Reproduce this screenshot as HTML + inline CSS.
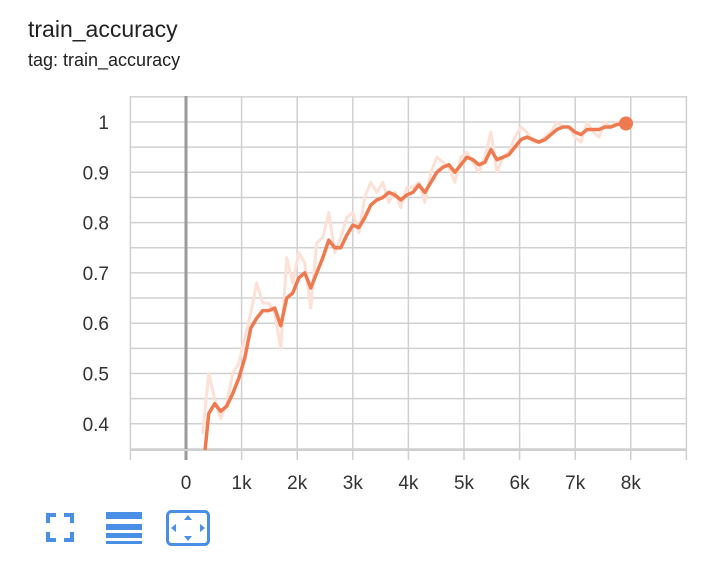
<!DOCTYPE html>
<html><head><meta charset="utf-8">
<style>
body{margin:0;width:712px;height:568px;background:#fff;overflow:hidden;font-family:"Liberation Sans",sans-serif;}
.t1{position:absolute;left:28px;top:16px;font-size:23px;color:#212121;}
.t2{position:absolute;left:28px;top:50px;font-size:18px;color:#212121;}
svg{position:absolute;left:0;top:0;}
</style></head>
<body>
<div class="t1">train_accuracy</div>
<div class="t2">tag: train_accuracy</div>
<svg id="chart" width="712" height="568"></svg>
<script>
const steps=[300,408,516,624,732,840,948,1056,1164,1272,1380,1488,1596,1704,1812,1920,2028,2136,2244,2352,2460,2568,2676,2784,2892,3000,3108,3216,3324,3432,3540,3648,3756,3864,3972,4080,4188,4296,4404,4512,4620,4728,4836,4944,5052,5160,5268,5376,5484,5592,5700,5808,5916,6024,6132,6240,6348,6456,6564,6672,6780,6888,6996,7104,7212,7320,7428,7536,7644,7752,7860];
const smoothed=[0.30,0.42,0.44,0.425,0.435,0.46,0.49,0.53,0.59,0.61,0.625,0.625,0.63,0.595,0.65,0.66,0.69,0.70,0.67,0.70,0.73,0.765,0.75,0.75,0.775,0.795,0.79,0.81,0.835,0.845,0.85,0.86,0.855,0.845,0.855,0.86,0.875,0.86,0.88,0.90,0.91,0.915,0.90,0.915,0.93,0.925,0.915,0.92,0.945,0.925,0.93,0.935,0.95,0.965,0.97,0.965,0.96,0.965,0.975,0.985,0.99,0.99,0.98,0.975,0.985,0.985,0.985,0.99,0.99,0.995,0.997];
const raw=[0.38,0.50,0.45,0.41,0.44,0.50,0.52,0.57,0.62,0.68,0.64,0.64,0.62,0.55,0.73,0.68,0.74,0.72,0.63,0.76,0.77,0.82,0.74,0.77,0.81,0.82,0.78,0.85,0.88,0.86,0.88,0.84,0.86,0.83,0.87,0.87,0.88,0.84,0.90,0.93,0.92,0.91,0.88,0.93,0.94,0.92,0.90,0.93,0.98,0.90,0.93,0.94,0.97,0.99,0.98,0.96,0.96,0.97,0.98,1.0,0.99,0.99,0.97,0.96,1.0,0.98,0.97,1.0,0.99,1.0,0.997];
const xTicks=[0,1000,2000,3000,4000,5000,6000,7000,8000];
const xTickLabels=["0","1k","2k","3k","4k","5k","6k","7k","8k"];
const yTicks=[0.4,0.5,0.6,0.7,0.8,0.9,1];
const yTickLabels=["0.4","0.5","0.6","0.7","0.8","0.9","1"];

const L=131,R=687,T=96,B=450;
const xS=v=>186+v*(55.6/1000);
const yS=v=>122+(1-v)*503;
const svg=document.getElementById('chart');
const NS='http://www.w3.org/2000/svg';
function mk(tag,attrs,parent){const e=document.createElementNS(NS,tag);for(const k in attrs)e.setAttribute(k,attrs[k]);(parent||svg).appendChild(e);return e;}

const defs=mk('defs',{});
const cp=mk('clipPath',{id:'clip'},defs);
mk('rect',{x:L,y:T,width:R-L,height:B-T},cp);

const grid=mk('g',{});


for(let v=0.35;v<=1.0501;v+=0.05){const y=yS(v);mk('line',{x1:L,x2:R,y1:y,y2:y,stroke:'#d0d0d0','stroke-width':1.5},grid);}
for(let s=-1000;s<=9000;s+=1000){const x=xS(s);mk('line',{x1:x,x2:x,y1:T,y2:B+10,stroke:s===0?'#9a9a9a':'#d0d0d0','stroke-width':s===0?3:1.5},grid);}
mk('line',{x1:L,x2:R,y1:B,y2:B,stroke:'#cfcfcf','stroke-width':2},grid);

xTicks.forEach((s,i)=>{const t=mk('text',{x:xS(s),y:489,'text-anchor':'middle','font-size':19,fill:'#333','font-family':'Liberation Sans, sans-serif'});t.textContent=xTickLabels[i];

});
yTicks.forEach((v,i)=>{const t=mk('text',{x:109,y:yS(v)+7,'text-anchor':'end','font-size':19,fill:'#333','font-family':'Liberation Sans, sans-serif'});t.textContent=yTickLabels[i];

});

const g=mk('g',{'clip-path':'url(#clip)'});
const rp=mk('polyline',{points:steps.map((s,i)=>xS(s)+','+yS(raw[i])).join(' '),fill:'none',stroke:'#fde0d6','stroke-width':3,'stroke-linejoin':'round'},g);


const sp=mk('polyline',{points:steps.map((s,i)=>xS(s)+','+yS(smoothed[i])).join(' '),fill:'none',stroke:'#ef7a4f','stroke-width':3.5,'stroke-linejoin':'round'},g);


const n=steps.length-1;
const dot=mk('circle',{cx:xS(steps[n])+3,cy:yS(smoothed[n]),r:7,fill:'#ef7a4f'});



const c='#4a8fe6';
const fs=mk('g',{fill:'none',stroke:c,'stroke-width':4});


mk('path',{d:'M48 523 V515 H56 M64 515 H72 V523 M72 532 V540 H64 M56 540 H48 V532'},fs);
const ls=mk('g',{fill:c});


mk('rect',{x:106,y:512,width:36,height:7},ls);
mk('rect',{x:106,y:524,width:36,height:6},ls);
mk('rect',{x:106,y:533,width:36,height:5},ls);
mk('rect',{x:106,y:541,width:36,height:3},ls);
const fit=mk('g',{});


mk('rect',{x:167.5,y:511.5,width:41,height:33,rx:4,fill:'none',stroke:c,'stroke-width':3},fit);
mk('path',{d:'M188 515 L192 520 H184 Z M188 541 L192 536 H184 Z M171 528 L176 524 V532 Z M205 528 L200 524 V532 Z',fill:c},fit);
</script>
</body></html>
